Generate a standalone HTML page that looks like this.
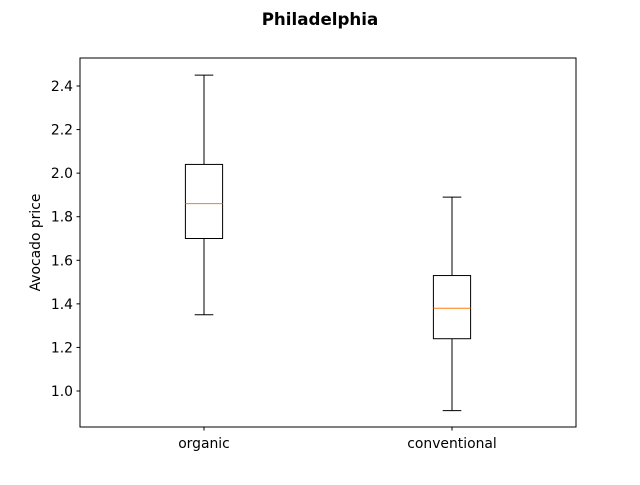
<!DOCTYPE html>
<html><head><meta charset="utf-8"><style>
body{margin:0;background:#fff;}
svg text{font-family:"DejaVu Sans","Liberation Sans",sans-serif;}
</style></head><body>
<svg id="c" width="640" height="480" xmlns="http://www.w3.org/2000/svg">
<text x="320" y="25" text-anchor="middle" font-size="16.7" font-weight="bold">Philadelphia</text>
<rect x="80" y="58" width="496" height="369" fill="none" stroke="#000" stroke-width="1"/>
<text transform="translate(40,242.5) rotate(-90)" text-anchor="middle" font-size="13.9">Avocado price</text>
<g id="g"></g>
</svg>
<script>
const categories=["organic","conventional"];
const whiskLow=[1.35,0.91];
const q1=[1.70,1.24];
const medians=[1.86,1.38];
const q3=[2.04,1.53];
const whiskHigh=[2.45,1.89];
const yTicks=[1.0,1.2,1.4,1.6,1.8,2.0,2.2,2.4];

const L=80,R=576,T=58,B=427,ymin=0.8348,ymax=2.5285;
const y=v=>B-(v-ymin)/(ymax-ymin)*(B-T);
const x=i=>L+(i+1-0.5)/2*(R-L);
const g=document.getElementById('g');
const NS="http://www.w3.org/2000/svg";
function mk(t,a){const e=document.createElementNS(NS,t);for(const k in a)e.setAttribute(k,a[k]);g.appendChild(e);return e;}
yTicks.forEach(v=>{
 const l=mk('line',{x1:L-3.5,x2:L,y1:y(v),y2:y(v),stroke:'#000'});
 
 
 const t=mk('text',{x:L-7,y:y(v)+5,'text-anchor':'end','font-size':13.9});
 t.textContent=v.toFixed(1);
 
 
});
categories.forEach((c,i)=>{
 const cx=x(i),hw=0.075*248,cw=hw/2;
 const tk=mk('line',{x1:cx,x2:cx,y1:B,y2:B+3.5,stroke:'#000'});
 
 
 const t=mk('text',{x:cx,y:B+21,'text-anchor':'middle','font-size':13.9});
 t.textContent=c;
 
 
 const w1=mk('line',{x1:cx,x2:cx,y1:y(q1[i]),y2:y(whiskLow[i]),stroke:'#000'});
 
 
 const w2=mk('line',{x1:cx,x2:cx,y1:y(q3[i]),y2:y(whiskHigh[i]),stroke:'#000'});
 
 
 const c1=mk('line',{x1:cx-cw,x2:cx+cw,y1:y(whiskLow[i]),y2:y(whiskLow[i]),stroke:'#000'});
 
 
 const c2=mk('line',{x1:cx-cw,x2:cx+cw,y1:y(whiskHigh[i]),y2:y(whiskHigh[i]),stroke:'#000'});
 
 
 const b=mk('rect',{x:cx-hw,y:y(q3[i]),width:2*hw,height:y(q1[i])-y(q3[i]),fill:'none',stroke:'#000'});
 
 
 const m=mk('line',{x1:cx-hw,x2:cx+hw,y1:y(medians[i]),y2:y(medians[i]),stroke:'#ff7f0e'});
 
 
});
</script>
</body></html>
